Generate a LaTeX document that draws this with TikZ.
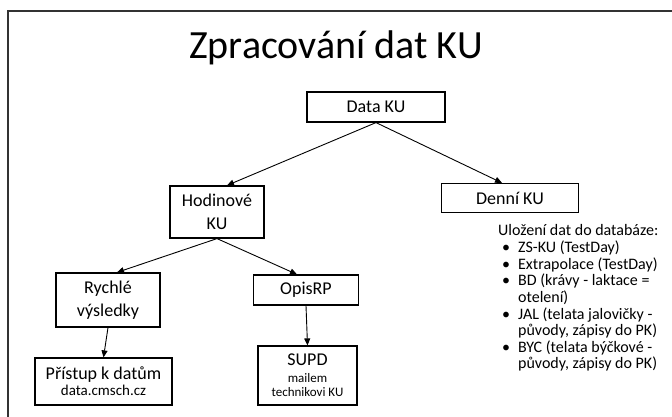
\documentclass[tikz,border=0pt]{standalone}
\usepackage{fontspec}
\setmainfont{Carlito}
\usetikzlibrary{arrows.meta}

\begin{document}
\begin{tikzpicture}[x=1pt, y=-1pt,
  box/.style={draw, line width=1.2pt, align=center, inner sep=0pt,
    font=\fontsize{18}{23}\selectfont},
  arr/.style={-{Triangle[length=7pt,width=6pt]}, line width=0.9pt}]
  \useasboundingbox (0,0) rectangle (672,417);
  % slide frame, cut by the page on the right and below
  \draw[line width=2pt, black!80] (690,11) -- (8,11) -- (8,430);
  % title
  \node[anchor=base, font=\fontsize{40}{48}\selectfont] (title) at (336,59) {Zpracování dat KU};
  % boxes
  \node[box, minimum width=138pt, minimum height=30pt] (data) at (376,107) {Data KU};
  \node[box, minimum width=94pt, minimum height=52pt] (hodin) at (217,212) {Hodinové\\KU};
  \node[box, minimum width=137pt, minimum height=29pt] (denni) at (510,198) {Denní KU};
  \node[box, minimum width=104pt, minimum height=54pt] (rychle) at (108,300) {Rychlé\\výsledky};
  \node[box, minimum width=105pt, minimum height=30pt] (opis) at (306,290) {OpisRP};
  \node[box, minimum width=137pt, minimum height=47pt] (pristup) at (103.5,381.5)
    {Přístup k datům\\[-7pt]{\fontsize{15}{18}\selectfont data.cmsch.cz}};
  \node[box, minimum width=99pt, minimum height=59pt] (supd) at (307.5,375.5)
    {SUPD\\[-6pt]{\fontsize{13}{15}\selectfont mailem}\\[-9pt]{\fontsize{13}{15}\selectfont technikovi KU}};
  % arrows
  \draw[arr] (data.south) -- ([xshift=10pt]hodin.north);
  \draw[arr] (data.south) -- ([xshift=-8pt]denni.north);
  \draw[arr] (hodin.south) -- ([xshift=9pt]rychle.north);
  \draw[arr] (hodin.south) -- ([xshift=-9pt]opis.north);
  \draw[arr] (rychle.south) -- (pristup.north);
  \draw[arr] (opis.south) -- (supd.north);
  % what is stored
  \node[anchor=north west, inner sep=0pt, font=\fontsize{16}{16.5}\selectfont] (store) at (498,224)
    {\begin{tabular}[t]{@{\hspace{4pt}}l@{\hspace{8pt}}l@{}}
       \multicolumn{2}{@{}l@{}}{Uložení dat do databáze:}\\
       \textbullet & ZS-KU (TestDay)\\
       \textbullet & Extrapolace (TestDay)\\
       \textbullet & BD (krávy - laktace =\\
                   & otelení)\\
       \textbullet & JAL (telata jalovičky -\\
                   & původy, zápisy do PK)\\
       \textbullet & BYC (telata býčkové -\\
                   & původy, zápisy do PK)
     \end{tabular}};
\end{tikzpicture}
\end{document}
